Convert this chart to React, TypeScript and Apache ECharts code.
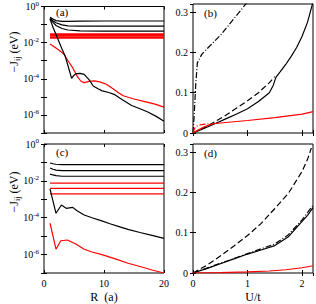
import React, { useEffect, useRef } from "react";
import * as echarts from "echarts";

const FONT = "'Liberation Serif', 'Times New Roman', serif";
const BLACK = "#000000";
const RED = "#ff0000";

// ---------- Panel (a): -J_ij vs R (log scale) ----------
const aFlatR = [1, 1.5, 2, 3, 4, 6, 10, 20];
const aFlat1 = [0.251, 0.2, 0.166, 0.151, 0.151, 0.155, 0.158, 0.158];
const aFlat2 = [0.224, 0.158, 0.126, 0.0955, 0.0851, 0.0813, 0.0813, 0.0813];
const aFlat3 = [0.2, 0.132, 0.0891, 0.0603, 0.0501, 0.0447, 0.0437, 0.0437];
const aRedFlatR = [1, 20];
const aRedFlat1 = [0.0295, 0.0295];
const aRedFlat2 = [0.0234, 0.0234];
const aRedFlat3 = [0.0186, 0.0186];
const aBlackR = [1, 1.5, 2, 2.5, 3, 3.5, 4, 4.6, 5, 5.4, 6, 6.7, 7.5, 8.2, 9, 9.7, 10.8, 11.8, 13, 14.6, 16, 17.3, 18.7, 20];
const aBlack = [2.0e-1, 7.08e-2, 2.82e-2, 1.12e-2, 4.47e-3, 1.91e-3, 5.25e-4, 1.05e-4, 1.58e-4, 1.95e-4, 2.0e-4, 1.74e-4, 8.91e-5, 3.98e-5, 2.82e-5, 2.14e-5, 1.74e-5, 1.32e-5, 7.08e-6, 3.31e-6, 2.19e-6, 1.45e-6, 8.32e-7, 4.47e-7];
const aRedR = [1, 2, 3, 3.4, 4, 4.8, 5.5, 6.2, 6.7, 7.5, 8.4, 9.3, 10.4, 11.5, 12.3, 13.2, 15, 16.8, 18.5, 20];
const aRed = [8.51e-3, 5.01e-3, 2.82e-3, 2.09e-3, 1.0e-3, 3.98e-4, 1.41e-4, 7.08e-5, 6.17e-5, 7.24e-5, 7.59e-5, 6.76e-5, 5.01e-5, 2.82e-5, 1.78e-5, 1.15e-5, 7.59e-6, 5.5e-6, 3.98e-6, 2.69e-6];

// ---------- Panel (c): -J_ij vs R (log scale) ----------
const cFlatR = [1, 1.5, 2, 3, 20];
const cFlat1 = [9.33e-2, 8.51e-2, 7.94e-2, 7.59e-2, 7.59e-2];
const cFlat2 = [5.01e-2, 4.27e-2, 3.8e-2, 3.55e-2, 3.55e-2];
const cFlat3 = [2.34e-2, 2.09e-2, 1.91e-2, 1.78e-2, 1.78e-2];
const cRedFlatR = [1, 20];
const cRedFlat1 = [7.59e-3, 7.59e-3];
const cRedFlat2 = [3.89e-3, 3.89e-3];
const cRedFlat3 = [1.95e-3, 1.95e-3];
const cBlackR = [1, 2, 2.9, 3.7, 4.8, 5.5, 6.7, 8, 9.5, 11, 12.5, 14, 16, 18, 20];
const cBlack = [3.63e-3, 1.74e-4, 4.9e-4, 3.24e-4, 3.63e-4, 2.4e-4, 1.41e-4, 1.0e-4, 6.92e-5, 4.68e-5, 3.31e-5, 2.34e-5, 1.58e-5, 1.1e-5, 7.59e-6];
const cRedR = [1, 2, 2.8, 3.9, 5.3, 6.7, 8, 9.8, 12, 14, 16, 18, 20];
const cRed = [5.01e-5, 1.95e-6, 5.62e-6, 6.17e-6, 3.72e-6, 1.95e-6, 1.38e-6, 9.55e-7, 5.62e-7, 3.39e-7, 2.24e-7, 1.45e-7, 1.0e-7];

// ---------- Panel (b): vs U/t ----------
const bDashDotU = [0, 0.02, 0.05, 0.08, 0.16, 0.28, 0.52, 0.77, 0.92, 1.0];
const bDashDot = [0, 0.04, 0.12, 0.174, 0.195, 0.212, 0.245, 0.287, 0.312, 0.325];
const bSolidU = [0, 0.2, 0.4, 0.6, 0.8, 1.0, 1.2, 1.4, 1.47, 1.52, 1.6, 1.7, 1.8, 1.9, 2.0, 2.1, 2.2];
const bSolid = [0, 0.011, 0.023, 0.035, 0.047, 0.06, 0.078, 0.1, 0.118, 0.138, 0.152, 0.17, 0.19, 0.212, 0.24, 0.275, 0.325];
const bDashedU = [0, 0.2, 0.4, 0.6, 0.8, 1.0, 1.2, 1.4, 1.5];
const bDashed = [0, 0.013, 0.028, 0.044, 0.062, 0.08, 0.1, 0.125, 0.14];
const bRedU = [0, 0.1, 0.2, 0.3, 0.37, 0.6, 1.0, 1.5, 2.0, 2.2];
const bRed = [0, 0.008, 0.015, 0.02, 0.023, 0.026, 0.031, 0.038, 0.047, 0.053];
const bRedDashU = [0, 0.03, 0.08, 0.16, 0.3];
const bRedDash = [0, 0.012, 0.018, 0.021, 0.023];

// ---------- Panel (d): vs U/t ----------
const dDashedU = [0, 0.25, 0.5, 0.75, 1.0, 1.25, 1.5, 1.75, 2.0, 2.1, 2.17];
const dDashed = [0, 0.019, 0.042, 0.067, 0.093, 0.123, 0.16, 0.198, 0.252, 0.282, 0.31];
const dSolidU = [0, 0.25, 0.5, 0.75, 1.0, 1.25, 1.5, 1.75, 2.0, 2.1, 2.2];
const dSolid = [0, 0.011, 0.023, 0.035, 0.047, 0.057, 0.068, 0.09, 0.128, 0.143, 0.162];
const dDashDotU = [0, 0.5, 1.0, 1.5, 1.75, 2.0, 2.2];
const dDashDot = [0, 0.024, 0.048, 0.072, 0.095, 0.132, 0.168];
const dRedU = [0, 0.5, 1.0, 1.4, 1.7, 2.0, 2.2];
const dRed = [0, 0.001, 0.003, 0.005, 0.008, 0.013, 0.018];

const panelLabels = ["(a)", "(b)", "(c)", "(d)"];

const zip = (xs: number[], ys: number[]) => xs.map((x, i) => [x, ys[i]]);

const DASHED = [6, 3];
const DASHDOT = [6, 2, 1, 2];

export default function App() {
  const ref = useRef<HTMLDivElement>(null);
  useEffect(() => {
    if (!ref.current) return;
    const chart = echarts.init(ref.current, null, { renderer: "svg" });

    const grids = [
      { left: 44, top: 4, width: 120, height: 129 },
      { left: 193, top: 4, width: 120, height: 129 },
      { left: 44, top: 144, width: 120, height: 129 },
      { left: 193, top: 144, width: 120, height: 129 },
    ].map((g) => ({ ...g, show: true, borderColor: BLACK, borderWidth: 1, backgroundColor: "transparent" }));

    const tick = { show: true, inside: true, length: 3, lineStyle: { color: BLACK, width: 1 } };
    const labelBase = { color: BLACK, fontFamily: FONT, fontSize: 10, margin: 5 };

    const xRange = (gi: number) =>
      gi % 2 === 0
        ? { type: "value", min: 0, max: 20, interval: 10 }
        : { type: "value", min: 0, max: 2.2, interval: 1 };
    const yRange = (gi: number) =>
      gi % 2 === 0
        ? { type: "log", min: 1e-7, max: 1, logBase: 10 }
        : { type: "value", min: 0, max: 0.32, interval: 0.1 };

    const xAxis: any[] = [];
    const yAxis: any[] = [];
    for (let gi = 0; gi < 4; gi++) {
      const bottomRow = gi >= 2;
      xAxis.push({
        gridIndex: gi,
        position: "bottom",
        ...xRange(gi),
        axisLine: { show: false },
        splitLine: { show: false },
        axisTick: tick,
        axisLabel: { ...labelBase, show: bottomRow, showMaxLabel: gi % 2 === 0 },
        name: bottomRow ? (gi === 2 ? "R  (a)" : "U/t") : "",
        nameLocation: "middle",
        nameGap: 18,
        nameTextStyle: { color: BLACK, fontFamily: FONT, fontSize: 12 },
      });
      xAxis.push({
        gridIndex: gi,
        position: "top",
        ...xRange(gi),
        axisLine: { show: false },
        splitLine: { show: false },
        axisTick: tick,
        axisLabel: { show: false },
      });
      const isLog = gi % 2 === 0;
      yAxis.push({
        gridIndex: gi,
        position: "left",
        ...yRange(gi),
        axisLine: { show: false },
        splitLine: { show: false },
        axisTick: tick,
        axisLabel: isLog
          ? {
              ...labelBase,
              formatter: (v: number) => {
                const e = Math.round(Math.log10(v));
                if (e % 2 !== 0) return "";
                return `{b|10}{s|${e}}`;
              },
              rich: {
                b: { fontFamily: FONT, fontSize: 10, color: BLACK },
                s: { fontFamily: FONT, fontSize: 7, color: BLACK, verticalAlign: "top", padding: [0, 0, 6, 0] },
              },
            }
          : { ...labelBase, showMaxLabel: false },
      });
      yAxis.push({
        gridIndex: gi,
        position: "right",
        ...yRange(gi),
        axisLine: { show: false },
        splitLine: { show: false },
        axisTick: tick,
        axisLabel: { show: false },
      });
    }

    const line = (gi: number, xs: number[], ys: number[], color: string, type: any = "solid", width = 1.2) => ({
      type: "line",
      xAxisIndex: gi * 2,
      yAxisIndex: gi * 2,
      data: zip(xs, ys),
      showSymbol: false,
      symbol: "none",
      silent: true,
      lineStyle: { color, width, type },
    });

    const series = [
      // (a)
      line(0, aRedFlatR, aRedFlat1, RED, "solid", 1.8),
      line(0, aRedFlatR, aRedFlat2, RED, "solid", 1.8),
      line(0, aRedFlatR, aRedFlat3, RED, "solid", 1.8),
      line(0, aFlatR, aFlat1, BLACK),
      line(0, aFlatR, aFlat2, BLACK),
      line(0, aFlatR, aFlat3, BLACK),
      line(0, aRedR, aRed, RED),
      line(0, aBlackR, aBlack, BLACK),
      // (b)
      line(1, bDashDotU, bDashDot, BLACK, DASHDOT),
      line(1, bDashedU, bDashed, BLACK, DASHED),
      line(1, bSolidU, bSolid, BLACK),
      line(1, bRedDashU, bRedDash, RED, DASHDOT),
      line(1, bRedU, bRed, RED),
      // (c)
      line(2, cFlatR, cFlat1, BLACK),
      line(2, cFlatR, cFlat2, BLACK),
      line(2, cFlatR, cFlat3, BLACK),
      line(2, cRedFlatR, cRedFlat1, RED),
      line(2, cRedFlatR, cRedFlat2, RED),
      line(2, cRedFlatR, cRedFlat3, RED),
      line(2, cBlackR, cBlack, BLACK),
      line(2, cRedR, cRed, RED),
      // (d)
      line(3, dDashedU, dDashed, BLACK, DASHED),
      line(3, dSolidU, dSolid, BLACK),
      line(3, dDashDotU, dDashDot, BLACK, DASHDOT),
      line(3, dRedU, dRed, RED),
    ];

    const labelPos = [
      [56, 12],
      [204, 13],
      [56, 152],
      [204, 153],
    ];
    const yName = (cy: number) => ({
      type: "text",
      x: 14,
      y: cy,
      rotation: Math.PI / 2,
      style: {
        text: "{a|−J}{s|ij}{a| (eV)}",
        align: "center",
        verticalAlign: "middle",
        rich: {
          a: { fontFamily: FONT, fontSize: 12, fill: BLACK },
          s: { fontFamily: FONT, fontSize: 8, fill: BLACK, padding: [7, 0, 0, 0] },
        },
      },
    });

    const graphic = [
      ...panelLabels.map((t, i) => ({
        type: "text",
        x: labelPos[i][0],
        y: labelPos[i][1],
        style: { text: t, fontFamily: FONT, fontSize: 11, fill: BLACK, verticalAlign: "middle" },
      })),
      yName(52),
      yName(192),
    ];

    chart.setOption({
      animation: false,
      backgroundColor: "#ffffff",
      grid: grids,
      xAxis,
      yAxis,
      series,
      graphic,
    } as any);

    return () => chart.dispose();
  }, []);

  return <div ref={ref} style={{ position: "absolute", left: 0, top: 0, width: 316, height: 304 }} />;
}
